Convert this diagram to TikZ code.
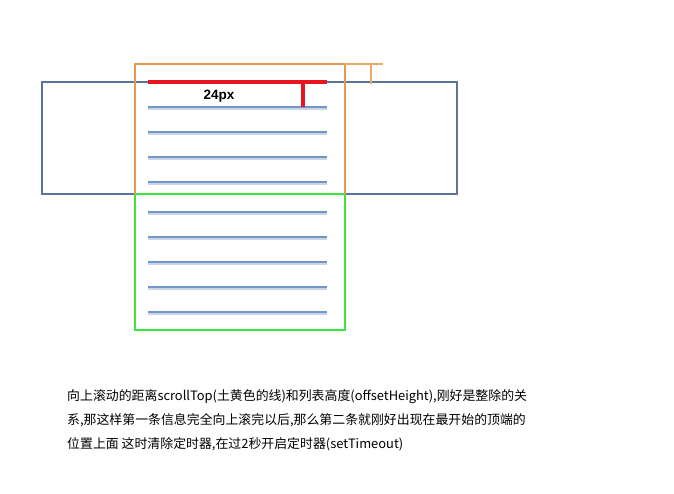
\documentclass[tikz,border=0pt]{standalone}
\usepackage{fontspec}
\setmainfont{Liberation Sans}
\newfontfamily\cjk{Noto Sans CJK SC}
\definecolor{frameblue}{HTML}{5B7499}
\definecolor{listblue}{HTML}{7296C8}
\definecolor{shadowblue}{HTML}{C9D5E6}
\definecolor{orangeA}{HTML}{E5994F}
\definecolor{orangeB}{HTML}{EDA86A}
\definecolor{greenA}{HTML}{3BE63B}
\definecolor{redA}{HTML}{E8141E}
\tikzset{
  outerbox/.style={draw=frameblue,line width=2.3pt},
  viewbox/.style={draw=orangeA,line width=2.3pt},
  nextbox/.style={draw=greenA,line width=2.8pt},
  listline/.style={draw=listblue,line width=2.6pt},
  listshadow/.style={draw=shadowblue,line width=4.5pt},
  redline/.style={draw=redA,line width=3.5pt},
  caption/.style={font=\cjk\fontsize{12.9}{16}\selectfont,anchor=base west,inner sep=0pt},
}
\begin{document}
\begin{tikzpicture}[x=1pt,y=-1pt]
\useasboundingbox[fill=white] (0,0) rectangle (674,494);
% outer blue frame
\draw[outerbox] (42,82) rectangle (457,194);
% list lines
\foreach \y in {107,132,157,182,212,237,262,287,312}{
  \draw[listshadow] (148,\y+1) -- (327,\y+1);
  \draw[listline] (148,\y) -- (327,\y);
}
% green box
\draw[nextbox] (135,194) rectangle (345,330);
% orange viewport
\draw[viewbox] (135,194) -- (135,64) -- (345,64) -- (345,194);
\draw[draw=orangeB,line width=2.5pt] (345,64) -- (383,64);
\draw[draw=orangeB,line width=2.5pt] (371,64) -- (371,84);
% red line and marker
\draw[redline] (148,82) -- (327,82);
\draw[draw=redA,line width=4.5pt] (303,82) -- (303,107);
\node[font=\bfseries\fontsize{13.5}{16}\selectfont,inner sep=0pt] (lbl) at (219,96) {24px};
% caption
\node[caption] (t1) at (67,400) {向上滚动的距离scrollTop(土黄色的线)和列表高度(offsetHeight),刚好是整除的关};
\node[caption] (t2) at (67,424) {系,那这样第一条信息完全向上滚完以后,那么第二条就刚好出现在最开始的顶端的};
\node[caption] (t3) at (67,448) {位置上面\ 这时清除定时器,在过2秒开启定时器(setTimeout)};
\end{tikzpicture}
\end{document}
